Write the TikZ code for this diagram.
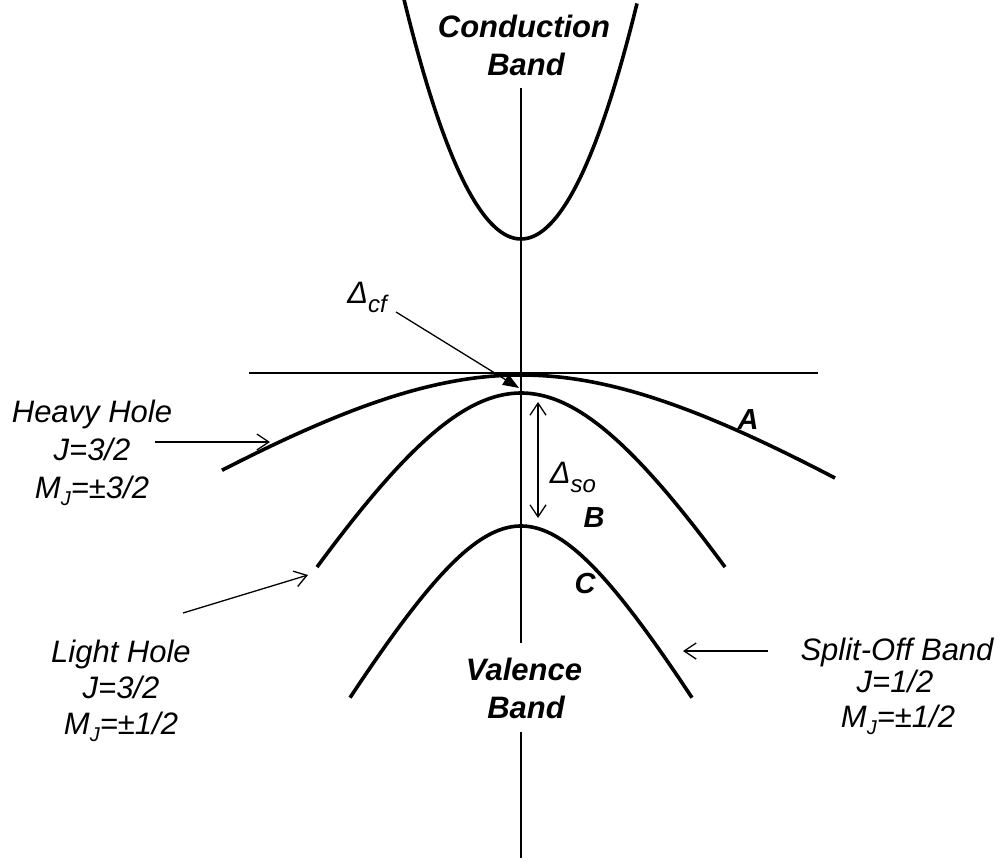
\documentclass[tikz,border=0pt]{standalone}
\usepackage{fontspec}
\setmainfont{Liberation Sans}
\usetikzlibrary{arrows.meta}
\newcommand{\mysub}[1]{\raisebox{-7pt}{\fontsize{20}{20}\selectfont #1}}
\newcommand{\mydsub}[1]{\raisebox{-9pt}{\fontsize{24}{24}\selectfont #1}}
\begin{document}
\begin{tikzpicture}[x=1pt,y=-1pt,
  band/.style={line width=3.6pt},
  thinline/.style={line width=1.3pt},
  ptr/.style={line width=1.3pt,-{Straight Barb[length=12pt,width=16pt,line width=1.3pt]}},
  dptr/.style={line width=1.3pt,{Straight Barb[length=12pt,width=16pt,line width=1.3pt]}-{Straight Barb[length=12pt,width=16pt,line width=1.3pt]}},
  fptr/.style={line width=1.3pt,-{Triangle[length=16pt,width=12pt]}},
  lab/.style={font=\fontsize{31}{37}\selectfont\itshape, anchor=base, inner sep=0pt},
  blab/.style={font=\fontsize{31}{37}\selectfont\bfseries\itshape, anchor=base, inner sep=0pt},
  letter/.style={font=\fontsize{29}{34}\selectfont\bfseries\itshape, anchor=base, inner sep=0pt}]
\useasboundingbox (0,0) rectangle (1002,862);
\fill[white] (0,0) rectangle (1002,862);

% bands
\draw[band] plot[domain=-118:116,samples=80] ({521+\x},{239-0.0175*\x*\x});
\draw[band] plot[domain=-299:314,samples=100] ({521+\x},{375+148.8*(sqrt(1+(\x/230)^2)-1)});
\draw[band] plot[domain=-204:204,samples=100] ({521+\x},{393+253*(sqrt(1+(\x/150)^2)-1)});
\draw[band] plot[domain=-171:171,samples=100] ({521+\x},{526+175*(sqrt(1+(\x/100)^2)-1)});

% axis and reference line
\coordinate (axtop) at (521,88);
\coordinate (axmid) at (521,643);
\coordinate (axlow) at (521,732);
\coordinate (axbot) at (521,858);
\draw[thinline] (axtop) -- (axmid);
\draw[thinline] (axlow) -- (axbot);
\coordinate (hl) at (249,373);
\coordinate (hr) at (818,373);
\draw[thinline] (hl) -- (hr);

% labels
\node[blab] (cb1) at (524,37) {Conduction};
\node[blab] (cb2) at (526,75) {Band};
\node[blab] (vb1) at (524,680) {Valence};
\node[blab] (vb2) at (526,718) {Band};

\node[lab] (hh1) at (92,422) {Heavy Hole};
\node[lab] (hh2) at (92,460) {J=3/2};
\node[lab] (hh3) at (92,498) {M\mysub{J}=±3/2};

\node[lab] (lh1) at (121,662) {Light Hole};
\node[lab] (lh2) at (121,698) {J=3/2};
\node[lab] (lh3) at (121,734) {M\mysub{J}=±1/2};

\node[lab] (so1) at (897,660) {Split-Off Band};
\node[lab] (so2) at (895,692) {J=1/2};
\node[lab] (so3) at (898,727) {M\mysub{J}=±1/2};

\node[lab] (dcf) at (367,303) {Δ\mydsub{cf}};
\node[lab] (dso) at (573,483) {Δ\mydsub{so}};

\node[letter] (la) at (748,429) {A};
\node[letter] (lb) at (594,527) {B};
\node[letter] (lc) at (585,593) {C};

% pointers
\coordinate (hhs) at (155,442);
\coordinate (hht) at (270,442);
\draw[ptr] (hhs) -- (hht);
\coordinate (lhs) at (183,613);
\coordinate (lht) at (308,575);
\draw[ptr] (lhs) -- (lht);
\coordinate (sos) at (768,651);
\coordinate (sot) at (683,651);
\draw[ptr] (sos) -- (sot);
\coordinate (cfs) at (396,312);
\coordinate (cft) at (519,388);
\draw[fptr] (cfs) -- (cft);
\coordinate (sotop) at (538,402);
\coordinate (sobot) at (538,518);
\draw[dptr] (sotop) -- (sobot);
\end{tikzpicture}
\end{document}
